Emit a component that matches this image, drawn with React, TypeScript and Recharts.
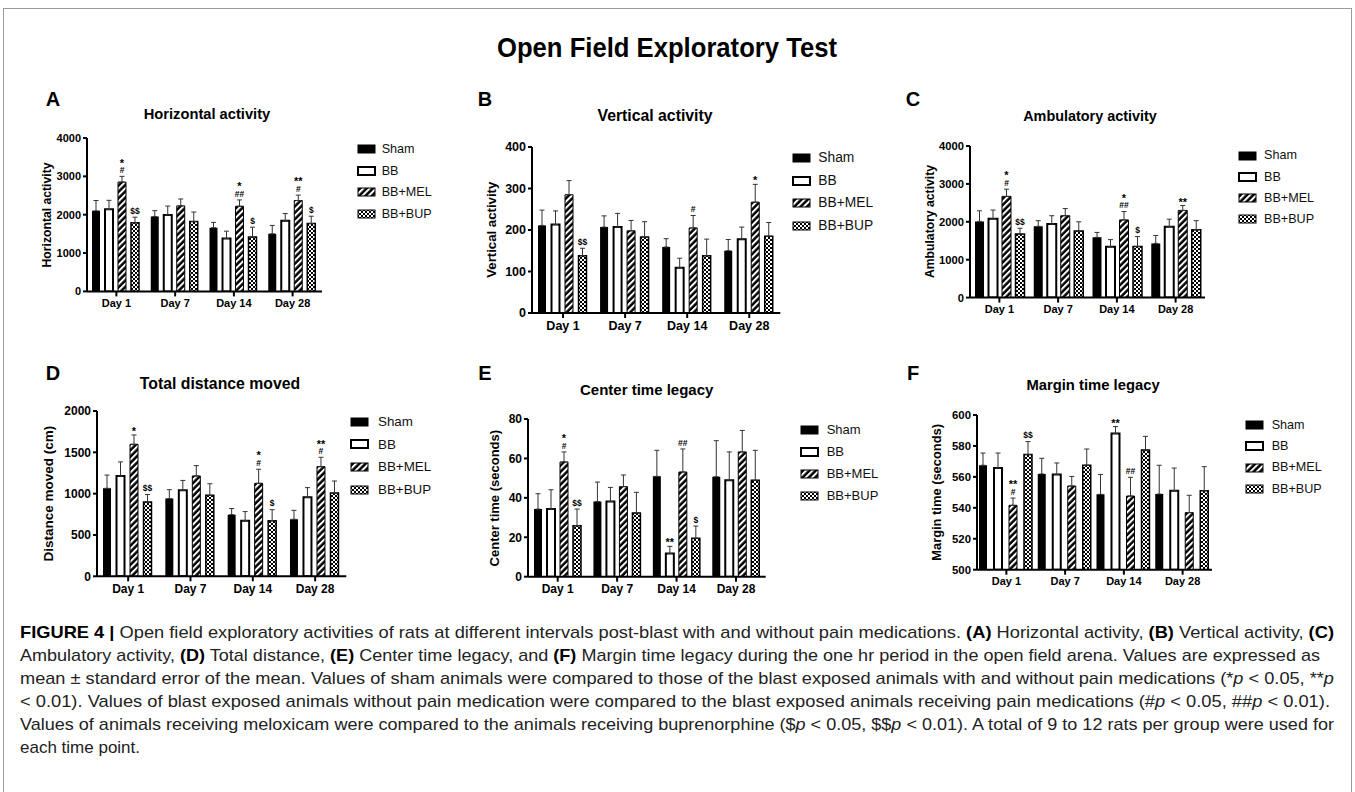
import React from "react";
import { BarChart, Bar, XAxis, YAxis, ErrorBar, LabelList, Legend } from "recharts";

const days = ["Day 1", "Day 7", "Day 14", "Day 28"];
const groups = ["Sham", "BB", "BB+MEL", "BB+BUP"];

// A: horizontal activity (rows = Sham, BB, BB+MEL, BB+BUP)
const horizMean = [
  [2100, 1950, 1660, 1500],
  [2140, 1990, 1380, 1840],
  [2850, 2230, 2220, 2370],
  [1790, 1820, 1420, 1770],
];
const horizSem = [
  [270, 155, 140, 220],
  [235, 235, 190, 190],
  [150, 180, 165, 140],
  [145, 250, 255, 190],
];
const horizSig = [
  ["", "", "", ""],
  ["", "", "", ""],
  ["*\n#", "", "*\n##", "**\n#"],
  ["$$", "", "$", "$"],
];
const horizTicks = [0, 1000, 2000, 3000, 4000];

// B: vertical activity
const vertMean = [
  [211, 207, 159, 150],
  [213, 207, 109, 178],
  [285, 198, 205, 267],
  [138, 183, 138, 185],
];
const vertSem = [
  [37, 27, 20, 27],
  [33, 33, 23, 29],
  [34, 25, 30, 43],
  [18, 37, 40, 33],
];
const vertSig = [
  ["", "", "", ""],
  ["", "", "", ""],
  ["", "", "#", "*"],
  ["$$", "", "", ""],
];
const vertTicks = [0, 100, 200, 300, 400];

// C: ambulatory activity
const ambMean = [
  [2010, 1880, 1590, 1430],
  [2080, 1940, 1340, 1870],
  [2670, 2160, 2050, 2300],
  [1680, 1760, 1350, 1790],
];
const ambSem = [
  [280, 150, 130, 210],
  [230, 220, 190, 200],
  [190, 190, 220, 130],
  [150, 240, 260, 240],
];
const ambSig = [
  ["", "", "", ""],
  ["", "", "", ""],
  ["*\n#", "", "*\n##", "**"],
  ["$$", "", "$", ""],
];
const ambTicks = [0, 1000, 2000, 3000, 4000];

// D: total distance moved (cm)
const distMean = [
  [1065, 940, 746, 690],
  [1214, 1040, 673, 956],
  [1597, 1214, 1125, 1327],
  [899, 980, 673, 1008],
];
const distSem = [
  [160, 108, 73, 108],
  [170, 120, 110, 117],
  [113, 125, 170, 113],
  [90, 140, 133, 145],
];
const distSig = [
  ["", "", "", ""],
  ["", "", "", ""],
  ["*", "", "*\n#", "**\n#"],
  ["$$", "", "$", ""],
];
const distTicks = [0, 500, 1000, 1500, 2000];

// E: center time legacy (s)
const centerMean = [
  [34.3, 38.1, 50.9, 50.7],
  [34.3, 38.2, 11.8, 48.9],
  [58.2, 45.7, 53.1, 63.3],
  [25.9, 32.3, 19.5, 48.9],
];
const centerSem = [
  [7.8, 9.9, 13.2, 18.3],
  [9.8, 7.1, 3.6, 14.4],
  [5.1, 5.9, 11.7, 10.9],
  [8.4, 10.5, 6.2, 15.2],
];
const centerSig = [
  ["", "", "", ""],
  ["", "", "**", ""],
  ["*\n#", "", "##", ""],
  ["$$", "", "$", ""],
];
const centerTicks = [0, 20, 40, 60, 80];

// F: margin time legacy (s)
const marginMean = [
  [567.5, 561.9, 548.7, 548.9],
  [565.7, 561.6, 588.1, 551.1],
  [541.6, 554.1, 547.6, 536.9],
  [574.4, 567.5, 577.4, 551.1],
];
const marginSem = [
  [7.9, 10.1, 12.9, 18.6],
  [9.7, 7.4, 4.4, 14.6],
  [4.7, 6.2, 12.1, 11.2],
  [8.4, 10.5, 8.8, 15.5],
];
const marginSig = [
  ["", "", "", ""],
  ["", "", "**", ""],
  ["**\n#", "", "##", ""],
  ["$$", "", "", ""],
];
const marginTicks = [500, 520, 540, 560, 580, 600];

const captionLines: [string, string][][] = [
  [["FIGURE 4 |", "b"], [" Open field exploratory activities of rats at different intervals post-blast with and without pain medications. ", ""], ["(A)", "b"], [" Horizontal activity, ", ""], ["(B)", "b"], [" Vertical activity, ", ""], ["(C)", "b"]],
  [["Ambulatory activity, ", ""], ["(D)", "b"], [" Total distance, ", ""], ["(E)", "b"], [" Center time legacy, and ", ""], ["(F)", "b"], [" Margin time legacy during the one hr period in the open field arena. Values are expressed as", ""]],
  [["mean \u00b1 standard error of the mean. Values of sham animals were compared to those of the blast exposed animals with and without pain medications (*", ""], ["p", "i"], [" < 0.05, **", ""], ["p", "i"]],
  [["< 0.01). Values of blast exposed animals without pain medication were compared to the blast exposed animals receiving pain medications (#", ""], ["p", "i"], [" < 0.05, ##", ""], ["p", "i"], [" < 0.01).", ""]],
  [["Values of animals receiving meloxicam were compared to the animals receiving buprenorphine ($", ""], ["p", "i"], [" < 0.05, $$", ""], ["p", "i"], [" < 0.01). A total of 9 to 12 rats per group were used for", ""]],
  [["each time point.", ""]],
];
const captionWidths = [1314, 1300, 1314, 1310, 1314, 0];

const fills = ["#000", "#fff", "url(#pat-mel)", "url(#pat-bup)"];
const strokeW = [0, 2, 1, 1.5];

type Cfg = {
  letter: string; title: string; yLabel: string;
  mean: number[][]; sem: number[][]; sig: string[][]; ticks: number[];
  x0: number; x1: number; y0: number; y1: number;
  catGap: number; barGap: number; tickFont: number; dayFont: number;
  yLabelX: number; yLabelFont: number; titleX: number; titleY: number; titleFont: number;
  letterX: number; letterY: number;
  legendX: number; legendY: number; legendStep: number; legendFont: number; legendGap: number;
};

const panels: Cfg[] = [
  { letter: "A", title: "Horizontal activity", yLabel: "Horizontal activity", mean: horizMean, sem: horizSem, sig: horizSig, ticks: horizTicks,
    x0: 87, x1: 322, y0: 138.3, y1: 291.7, catGap: 5, barGap: 5, tickFont: 11, dayFont: 11,
    yLabelX: 46.7, yLabelFont: 12.2, titleX: 207, titleY: 114, titleFont: 14.7, letterX: 53, letterY: 99,
    legendX: 356.7, legendY: 149.3, legendStep: 21.5, legendFont: 12.6, legendGap: 25 },
  { letter: "B", title: "Vertical activity", yLabel: "Vertical activity", mean: vertMean, sem: vertSem, sig: vertSig, ticks: vertTicks,
    x0: 531.7, x1: 780, y0: 146.7, y1: 312.7, catGap: 6, barGap: 5.5, tickFont: 12.5, dayFont: 12.5,
    yLabelX: 491.7, yLabelFont: 13.2, titleX: 655, titleY: 115.7, titleFont: 15.8, letterX: 485, letterY: 99,
    legendX: 791.7, legendY: 158.3, legendStep: 22.5, legendFont: 13.8, legendGap: 26.6 },
  { letter: "C", title: "Ambulatory activity", yLabel: "Ambulatory activity", mean: ambMean, sem: ambSem, sig: ambSig, ticks: ambTicks,
    x0: 970, x1: 1205, y0: 145.7, y1: 297.3, catGap: 5, barGap: 4.5, tickFont: 11.2, dayFont: 11,
    yLabelX: 930, yLabelFont: 12.2, titleX: 1090, titleY: 115.7, titleFont: 14.4, letterX: 913, letterY: 99,
    legendX: 1238, legendY: 155.7, legendStep: 21.2, legendFont: 12.6, legendGap: 26 },
  { letter: "D", title: "Total distance moved", yLabel: "Distance moved (cm)", mean: distMean, sem: distSem, sig: distSig, ticks: distTicks,
    x0: 96.7, x1: 346, y0: 411, y1: 576.3, catGap: 6, barGap: 5.5, tickFont: 12, dayFont: 12,
    yLabelX: 48.3, yLabelFont: 13.5, titleX: 220, titleY: 383.3, titleFont: 15.8, letterX: 53, letterY: 372.7,
    legendX: 350, legendY: 421.7, legendStep: 22.7, legendFont: 13.4, legendGap: 28 },
  { letter: "E", title: "Center time legacy", yLabel: "Center time (seconds)", mean: centerMean, sem: centerSem, sig: centerSig, ticks: centerTicks,
    x0: 528.3, x1: 766, y0: 419.3, y1: 577, catGap: 6, barGap: 5, tickFont: 12, dayFont: 12,
    yLabelX: 495, yLabelFont: 13, titleX: 646.7, titleY: 389.3, titleFont: 15, letterX: 485, letterY: 372.7,
    legendX: 800, legendY: 430, legendStep: 22, legendFont: 13, legendGap: 26.7 },
  { letter: "F", title: "Margin time legacy", yLabel: "Margin time (seconds)", mean: marginMean, sem: marginSem, sig: marginSig, ticks: marginTicks,
    x0: 977, x1: 1212, y0: 415, y1: 569.7, catGap: 2, barGap: 7, tickFont: 11.4, dayFont: 11,
    yLabelX: 936.7, yLabelFont: 12.9, titleX: 1093, titleY: 385, titleFont: 14.8, letterX: 913, letterY: 372.7,
    legendX: 1245, legendY: 425, legendStep: 21.3, legendFont: 12.6, legendGap: 26.7 },
];

const Swatch = ({ k }: { k: number }) => (
  <svg width={19} height={10} style={{ display: "block" }}>
    <rect x={1} y={1} width={17} height={8} fill={fills[k]} stroke="#000" strokeWidth={k === 1 ? 2 : 1} />
  </svg>
);

// significance marks stacked above the error bar cap
const Sig = (props: any) => {
  const { value, viewBox, base } = props;
  if (!value || !value.sig) return null;
  const vb = viewBox || props;
  const top = Math.min(vb.y, vb.y + vb.height);
  const h = Math.abs(vb.height);
  const per = h / (value.mean - base);
  const capY = top - value.sem * per;
  const cx = vb.x + vb.width / 2;
  const lines = String(value.sig).split("\n");
  const n = lines.length;
  return (
    <g>
      {lines.map((ln, j) => {
        const star = ln.includes("*");
        const fs = star ? 11 : 8.5;
        const center = capY - 6.3 - (n - 1 - j) * 9.8;
        return (
          <text key={j} x={cx} y={center + (star ? 0.575 : 0.36) * fs} fontSize={fs}
            textAnchor="middle" fontWeight={700} fill="#000">{ln}</text>
        );
      })}
    </g>
  );
};

function Panel({ p }: { p: Cfg }) {
  const yW = 60;
  const mTop = 12;
  const xH = 30;
  const left = p.x0 - yW;
  const top = p.y0 - mTop;
  const lw = p.legendX - p.x1 + 100;
  const width = yW + (p.x1 - p.x0) + lw;
  const height = mTop + (p.y1 - p.y0) + xH;
  const base = p.ticks[0];
  const rows = days.map((d, i) => {
    const r: any = { day: d };
    groups.forEach((g, k) => {
      r["m" + k] = p.mean[k][i];
      r["e" + k] = [0, p.sem[k][i]];
      r["s" + k] = { sig: p.sig[k][i], mean: p.mean[k][i], sem: p.sem[k][i] };
    });
    return r;
  });
  return (
    <div style={{ position: "absolute", left, top }}>
      <BarChart width={width} height={height} data={rows} margin={{ top: mTop, right: 0, bottom: 0, left: 0 }}
        barCategoryGap={p.catGap} barGap={p.barGap}>
        <XAxis dataKey="day" height={xH} interval={0} tickSize={5} tickMargin={3}
          axisLine={{ stroke: "#000", strokeWidth: 2 }} tickLine={{ stroke: "#000", strokeWidth: 2 }}
          tick={{ fill: "#000", fontSize: p.dayFont, fontWeight: 700 }} />
        <YAxis width={yW} domain={[p.ticks[0], p.ticks[p.ticks.length - 1]]} ticks={p.ticks} interval={0}
          allowDataOverflow tickSize={4} tickMargin={2}
          axisLine={{ stroke: "#000", strokeWidth: 2 }} tickLine={{ stroke: "#000", strokeWidth: 2 }}
          tick={{ fill: "#000", fontSize: p.tickFont, fontWeight: 700 }} />
        <Legend layout="vertical" align="right" verticalAlign="top"
          wrapperStyle={{ top: p.legendY - top - p.legendStep / 2, right: 0, width: lw }}
          content={() => (
            <div style={{ paddingLeft: p.legendX - p.x1 }}>
              {groups.map((g, k) => (
                <div key={g} style={{ height: p.legendStep, display: "flex", alignItems: "center" }}>
                  <div style={{ width: p.legendGap }}><Swatch k={k} /></div>
                  <span style={{ fontSize: p.legendFont, color: "#111", lineHeight: 1 }}>{g}</span>
                </div>
              ))}
            </div>
          )} />
        {groups.map((g, k) => (
          <Bar key={g} dataKey={"m" + k} name={g} fill={fills[k]} stroke={k === 0 ? "none" : "#000"}
            strokeWidth={strokeW[k]} isAnimationActive={false}>
            <ErrorBar dataKey={"e" + k} width={2.5} stroke="#333" strokeWidth={1} direction="y" />
            <LabelList dataKey={"s" + k} content={(lp: any) => <Sig {...lp} base={base} />} />
          </Bar>
        ))}
      </BarChart>
    </div>
  );
}

export default function App() {
  return (
    <div style={{ position: "absolute", left: 0, top: 0, width: 1355, height: 792, background: "#fff",
      fontFamily: "'Liberation Sans', Arial, sans-serif", overflow: "hidden" }}>
      <svg width={0} height={0} style={{ position: "absolute" }}>
        <defs>
          <pattern id="pat-mel" patternUnits="userSpaceOnUse" width={4.5} height={4.5} patternTransform="rotate(45)">
            <rect width={4.5} height={4.5} fill="#000" />
            <rect width={2} height={4.5} fill="#fff" />
          </pattern>
          <pattern id="pat-bup" patternUnits="userSpaceOnUse" width={4} height={4}>
            <rect width={4} height={4} fill="#000" />
            <rect x={0} y={0} width={2} height={2} fill="#fff" />
            <rect x={2} y={2} width={2} height={2} fill="#fff" />
          </pattern>
        </defs>
      </svg>
      <div style={{ position: "absolute", left: 3, top: 8, width: 1349, height: 800, border: "1px solid #9a9a9a", boxSizing: "border-box" }} />
      {panels.map((p) => <Panel key={p.letter} p={p} />)}
      <svg width={1355} height={792} style={{ position: "absolute", left: 0, top: 0, pointerEvents: "none" }}>
        <text x={667} y={57} textAnchor="middle" fontSize={27} fontWeight={700} textLength={340} lengthAdjust="spacingAndGlyphs"
          fontFamily="'Liberation Sans Narrow', 'Liberation Sans', Arial, sans-serif" fill="#000">
          Open Field Exploratory Test
        </text>
        {panels.map((p) => (
          <g key={p.letter}>
            <text x={p.letterX} y={p.letterY + 7} textAnchor="middle" fontSize={20} fontWeight={700} fill="#000">{p.letter}</text>
            <text x={p.titleX} y={p.titleY + p.titleFont * 0.36} textAnchor="middle" fontSize={p.titleFont} fontWeight={700} fill="#000">{p.title}</text>
            <text x={p.yLabelX} y={(p.y0 + p.y1) / 2} textAnchor="middle" dominantBaseline="central" fontSize={p.yLabelFont} fontWeight={700} fill="#000"
              transform={`rotate(-90, ${p.yLabelX}, ${(p.y0 + p.y1) / 2})`}>{p.yLabel}</text>
          </g>
        ))}
        {captionLines.map((line, i) => (
          <text key={i} x={20} y={638 + i * 23} fontSize={17} fill="#222"
            fontFamily="'Liberation Sans Narrow', 'Liberation Sans', Arial, sans-serif"
            {...(captionWidths[i] ? { textLength: captionWidths[i], lengthAdjust: "spacingAndGlyphs" } : {})}>
            {line.map(([t, s], j) => (
              <tspan key={j} fontWeight={s === "b" ? 700 : 400} fontStyle={s === "i" ? "italic" : "normal"} fill={s === "b" ? "#000" : "#222"}>{t}</tspan>
            ))}
          </text>
        ))}
      </svg>
    </div>
  );
}
